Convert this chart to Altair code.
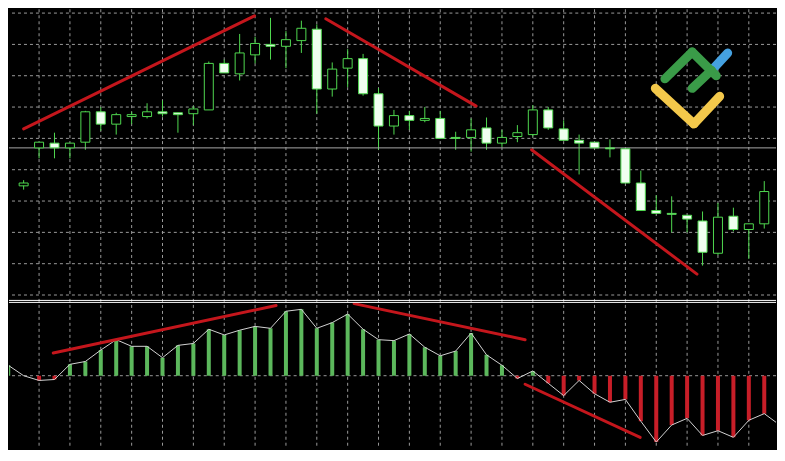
import altair as alt
import pandas as pd

# ---------------- data (price levels in pips above an arbitrary base) ----------------
candle_index = list(range(49))
open_p = [116, 156, 161, 156, 162, 194, 181, 189, 189, 194, 193, 192, 196, 245, 234, 254, 265, 263, 269, 281,
          218, 240, 250, 213, 179, 190, 185, 187, 167, 167, 177, 161, 168, 170, 196, 176, 164, 162, 156, 155,
          119, 90, 87, 85, 79, 45, 84, 70, 76]
high_p = [122, 162, 172, 161, 195, 199, 193, 194, 203, 206, 193, 200, 247, 249, 276, 273, 293, 279, 290, 286,
          246, 260, 255, 219, 196, 195, 199, 195, 173, 187, 188, 175, 180, 201, 199, 185, 170, 162, 165, 155,
          132, 106, 105, 85, 89, 98, 93, 76, 121]
low_p = [112, 145, 145, 145, 154, 174, 170, 181, 187, 189, 172, 180, 196, 235, 227, 245, 249, 240, 256, 192,
         210, 220, 211, 154, 170, 175, 183, 166, 154, 152, 154, 157, 162, 168, 175, 164, 128, 156, 146, 119,
         90, 87, 67, 67, 32, 43, 68, 39, 71]
close_p = [119, 162, 156, 161, 194, 181, 191, 191, 194, 192, 191, 197, 245, 235, 256, 266, 263, 270, 282, 218,
           239, 250, 213, 179, 190, 185, 187, 166, 166, 175, 161, 167, 172, 196, 177, 164, 161, 156, 155, 119,
           90, 87, 86, 81, 46, 83, 70, 76, 110]

price_line = [156]

osc_index = list(range(-1, 50))
osc_val = [11, 0, -5, -4, 12, 15, 27, 38, 31, 31, 19, 32, 34, 49, 43, 48, 52, 50, 68, 70, 50, 56, 65, 49, 38,
           37, 44, 30, 21, 26, 45, 22, 11, -3, 5, -8, -21, -5, -19, -28, -25, -48, -70, -52, -45, -63, -58,
           -65, -47, -40, -52]

grid_x = list(range(1, 48, 2))
grid_price = [298, 265, 232, 199, 166, 133, 100, 67, 34, 1]
grid_osc = [0]

# divergence lines (start index, start level, end index, end level)
ptrend_x1 = [0.0, 19.58, 32.92]
ptrend_y1 = [176, 292, 154]
ptrend_x2 = [14.96, 29.33, 43.64]
ptrend_y2 = [295, 200, 23]

otrend_x1 = [1.92, 21.42, 32.5]
otrend_y1 = [24, 76, -9]
otrend_x2 = [16.36, 32.5, 39.96]
otrend_y2 = [74, 38, -65]

# logo strokes
logo_part = ["blue", "yellow", "yellow", "green", "green", "green"]
logo_x1 = [44.69, 40.94, 43.44, 41.56, 43.33, 43.33]
logo_y1 = [239.3, 218.7, 181.3, 228.7, 257.0, 218.7]
logo_x2 = [45.63, 43.44, 45.11, 43.33, 44.89, 44.58]
logo_y2 = [256.0, 181.3, 210.3, 257.0, 232.0, 237.7]

# ---------------- styles ----------------
W = 768
H_TOP = 288
H_BOT = 150
CANDLE_GREEN = "#4fd84f"
BEAR_FILL = "#f0fff0"
TREND_RED = "#c4161c"
HIST_GREEN = "#5cb85c"
HIST_RED = "#c81e28"
GRID = "#9a9a9a"

x_scale = alt.Scale(domain=[-0.625, 48.4375], nice=False, zero=False)
p_scale = alt.Scale(domain=[-1, 302], nice=False, zero=False)
o_scale = alt.Scale(domain=[-77, 81], nice=False, zero=False)

gx_df = pd.DataFrame({"g": grid_x})


def vgrid():
    return alt.Chart(gx_df).mark_rule(color=GRID, strokeWidth=1, strokeDash=[3, 3]).encode(
        x=alt.X("g:Q", scale=x_scale, axis=None))


def hgrid(values, scale):
    return alt.Chart(pd.DataFrame({"g": values})).mark_rule(color=GRID, strokeWidth=1,
                                                             strokeDash=[3, 3]).encode(
        y=alt.Y("g:Q", scale=scale, axis=None))


candles = pd.DataFrame({"idx": candle_index, "open": open_p, "high": high_p,
                        "low": low_p, "close": close_p})
candles["kind"] = ["bull" if c > o else "bear" for o, c in zip(open_p, close_p)]

wicks = alt.Chart(candles).mark_rule(color=CANDLE_GREEN, strokeWidth=1).encode(
    x=alt.X("idx:Q", scale=x_scale, axis=None),
    y=alt.Y("low:Q", scale=p_scale, axis=None),
    y2="high:Q",
)

bodies = alt.Chart(candles).mark_bar(size=9, stroke=CANDLE_GREEN, strokeWidth=1).encode(
    x=alt.X("idx:Q", scale=x_scale, axis=None),
    y=alt.Y("open:Q", scale=p_scale, axis=None),
    y2="close:Q",
    color=alt.Color("kind:N", scale=alt.Scale(domain=["bull", "bear"], range=["#000000", BEAR_FILL]),
                    legend=None),
)

pline = alt.Chart(pd.DataFrame({"p": price_line})).mark_rule(color="#a8a8a8", strokeWidth=1).encode(
    y=alt.Y("p:Q", scale=p_scale, axis=None),
)

ptrend = pd.DataFrame({"x1": ptrend_x1, "y1": ptrend_y1, "x2": ptrend_x2, "y2": ptrend_y2})
ptrend_layer = alt.Chart(ptrend).mark_rule(color=TREND_RED, strokeWidth=3, strokeCap="round").encode(
    x=alt.X("x1:Q", scale=x_scale, axis=None), x2="x2:Q",
    y=alt.Y("y1:Q", scale=p_scale, axis=None), y2="y2:Q",
)

logo = pd.DataFrame({"part": logo_part, "x1": logo_x1, "y1": logo_y1, "x2": logo_x2, "y2": logo_y2})
logo_layer = alt.Chart(logo).mark_rule(strokeWidth=9, strokeCap="round").encode(
    x=alt.X("x1:Q", scale=x_scale, axis=None), x2="x2:Q",
    y=alt.Y("y1:Q", scale=p_scale, axis=None), y2="y2:Q",
    color=alt.Color("part:N", scale=alt.Scale(domain=["green", "yellow", "blue"],
                                              range=["#3a9b48", "#f3c84b", "#45a1e0"]), legend=None),
)

top = alt.layer(vgrid(), hgrid(grid_price, p_scale), wicks, pline, bodies, ptrend_layer,
                logo_layer).resolve_scale(color="independent").properties(width=W, height=H_TOP)

osc = pd.DataFrame({"idx": osc_index, "v": osc_val})
osc["sign"] = ["pos" if v >= 0 else "neg" for v in osc_val]

bars = alt.Chart(osc).mark_bar(size=4, clip=True).encode(
    x=alt.X("idx:Q", scale=x_scale, axis=None),
    y=alt.Y("v:Q", scale=o_scale, axis=None),
    y2=alt.datum(0),
    color=alt.Color("sign:N", scale=alt.Scale(domain=["pos", "neg"], range=[HIST_GREEN, HIST_RED]),
                    legend=None),
)

oline = alt.Chart(osc).mark_line(color="#d2d2d2", strokeWidth=1, clip=True).encode(
    x=alt.X("idx:Q", scale=x_scale, axis=None),
    y=alt.Y("v:Q", scale=o_scale, axis=None),
)

otrend = pd.DataFrame({"x1": otrend_x1, "y1": otrend_y1, "x2": otrend_x2, "y2": otrend_y2})
otrend_layer = alt.Chart(otrend).mark_rule(color=TREND_RED, strokeWidth=3, strokeCap="round").encode(
    x=alt.X("x1:Q", scale=x_scale, axis=None), x2="x2:Q",
    y=alt.Y("y1:Q", scale=o_scale, axis=None), y2="y2:Q",
)

sep_df = pd.DataFrame({"k": [0]})
sep1 = alt.Chart(sep_df).mark_rule(color="#ffffff", strokeWidth=1).encode(
    x=alt.value(0), x2=alt.value(W), y=alt.value(1.5))
sep2 = alt.Chart(sep_df).mark_rule(color="#ffffff", strokeWidth=1).encode(
    x=alt.value(0), x2=alt.value(W), y=alt.value(3.5))

bottom = alt.layer(vgrid(), hgrid(grid_osc, o_scale), bars, oline, otrend_layer, sep1, sep2).properties(
    width=W, height=H_BOT)

chart = alt.vconcat(top, bottom, spacing=0, padding=0).configure(
    background="#000000"
).configure_view(strokeWidth=0)

chart.save("out.html", embed_options={"renderer": "svg", "actions": False})
